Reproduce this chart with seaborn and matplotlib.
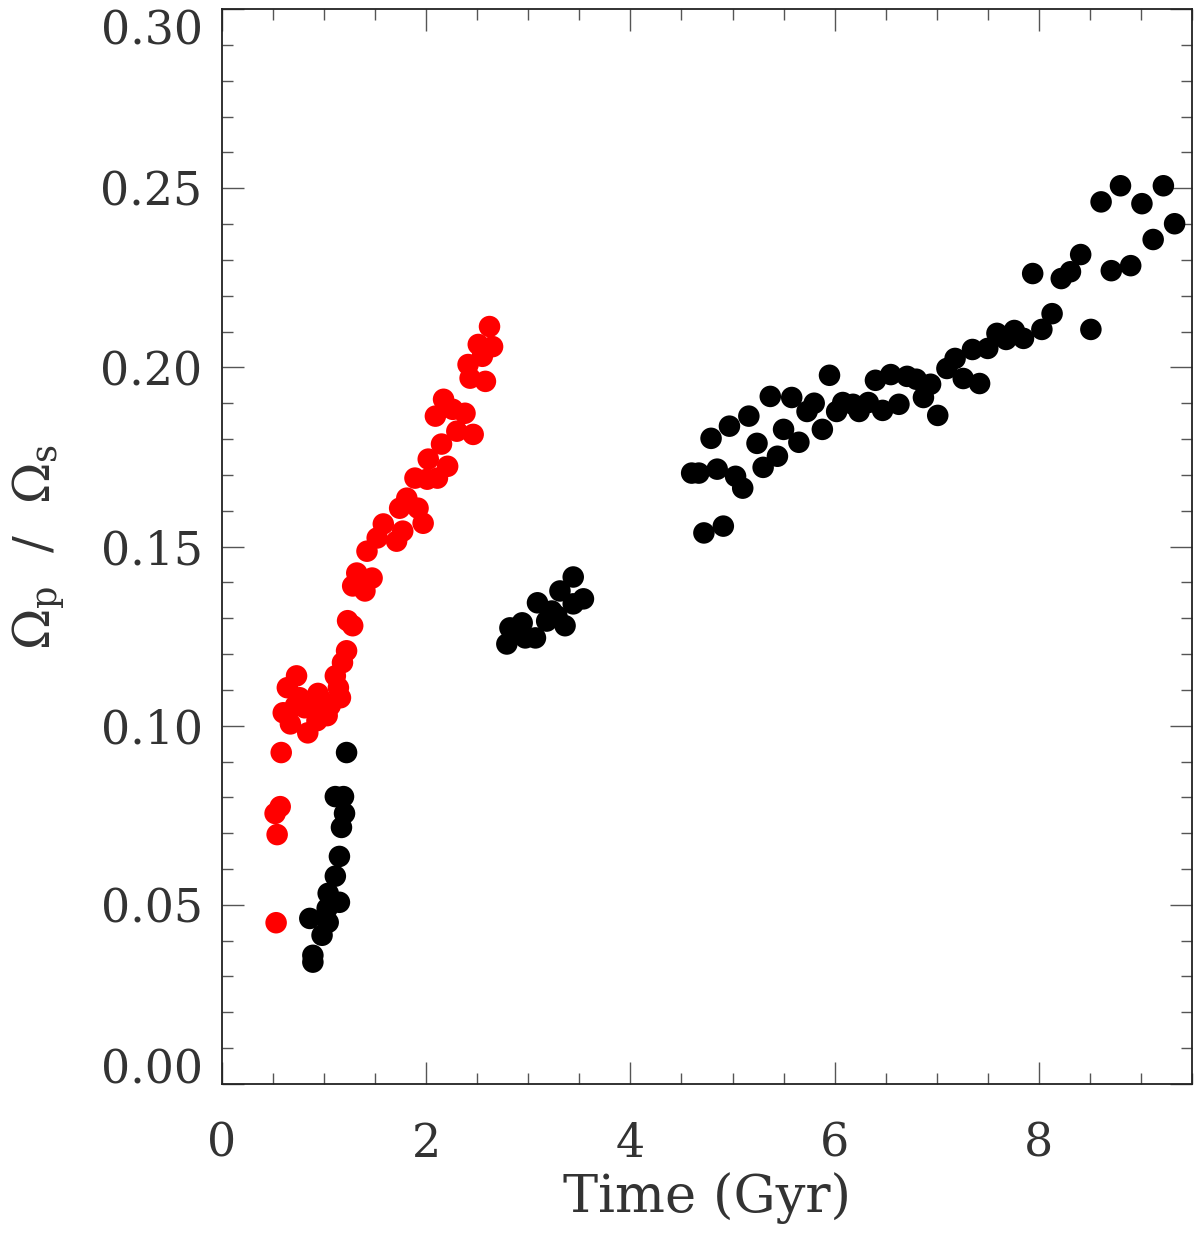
import matplotlib
matplotlib.use("Agg")
import matplotlib.pyplot as plt
from matplotlib.ticker import MultipleLocator
import seaborn as sns
import pandas as pd

# red run
red_t = [0.53, 0.54, 0.52, 0.57, 0.58,
         0.60, 0.64, 0.67, 0.73, 0.76, 0.81, 0.84, 0.93, 0.94, 1.03, 0.98, 0.88,
         0.72, 1.14, 1.11, 1.16, 1.18, 1.22, 1.06,
         1.23, 1.28, 1.32, 1.28, 1.40, 1.47, 1.42, 1.52, 1.71, 1.58, 1.77, 1.97,
         1.74, 1.92, 1.81, 1.89, 2.01, 2.11, 2.02, 2.21, 2.15, 2.30, 2.46, 2.09,
         2.26, 2.38, 2.17, 2.43, 2.58, 2.41, 2.55, 2.51, 2.65, 2.62]
red_om = [0.0450, 0.0696, 0.0755, 0.0774, 0.0925,
          0.1036, 0.1106, 0.1005, 0.1139, 0.1078, 0.1050, 0.0980, 0.1014, 0.1090,
          0.1028, 0.1070, 0.1056, 0.1056, 0.1106, 0.1139, 0.1078, 0.1176, 0.1209,
          0.1056,
          0.1293, 0.1279, 0.1426, 0.1390, 0.1376, 0.1412, 0.1487, 0.1524, 0.1515,
          0.1563, 0.1543, 0.1565, 0.1607, 0.1607, 0.1635, 0.1691, 0.1688, 0.1691,
          0.1744, 0.1724, 0.1786, 0.1822, 0.1813, 0.1864, 0.1883, 0.1872, 0.1911,
          0.1970, 0.1961, 0.2008, 0.2031, 0.2064, 0.2058, 0.2114]

# black run
black_t = [1.22, 1.11, 1.19, 1.20, 1.17, 1.15, 1.11, 1.04, 1.15, 1.03, 0.86,
           1.04, 0.98, 0.89, 0.89,
           2.79, 2.82, 2.94, 2.97, 3.07, 3.09, 3.18, 3.23, 3.28, 3.31, 3.36,
           3.44, 3.54, 3.44,
           4.60, 4.67, 4.85, 5.03, 5.10, 4.79, 4.97, 5.16, 5.24, 5.30, 5.44,
           5.37, 5.50, 5.58, 5.65, 5.73, 5.80, 5.88, 5.95, 6.02, 6.08, 6.18,
           6.24, 6.33, 6.40, 6.47, 6.55, 6.63, 6.71, 6.80, 6.87, 6.94, 7.01,
           7.10, 4.72, 4.91,
           7.18, 7.26, 7.35, 7.42, 7.50, 7.59, 7.68, 7.76, 7.85, 7.94, 8.03,
           8.13, 8.22, 8.31, 8.41, 8.51, 8.61, 8.71, 8.80, 8.90, 9.01, 9.12,
           9.22, 9.33]
black_om = [0.0925, 0.0802, 0.0802, 0.0755, 0.0716, 0.0635, 0.0580, 0.0532,
            0.0507, 0.0490, 0.0462, 0.0451, 0.0415, 0.0359, 0.0340,
            0.1228, 0.1273, 0.1287, 0.1245, 0.1245, 0.1343, 0.1292, 0.1320,
            0.1306, 0.1376, 0.1279, 0.1340, 0.1354, 0.1415,
            0.1705, 0.1705, 0.1716, 0.1696, 0.1663, 0.1802, 0.1836, 0.1864,
            0.1788, 0.1721, 0.1752, 0.1919, 0.1827, 0.1916, 0.1791, 0.1877,
            0.1900, 0.1827, 0.1978, 0.1877, 0.1902, 0.1897, 0.1877, 0.1902,
            0.1964, 0.1880, 0.1980, 0.1897, 0.1975, 0.1967, 0.1916, 0.1953,
            0.1866, 0.1997, 0.1538, 0.1557,
            0.2025, 0.1969, 0.2050, 0.1955, 0.2053, 0.2095, 0.2078, 0.2103,
            0.2081, 0.2262, 0.2106, 0.2150, 0.2248, 0.2267, 0.2315, 0.2106,
            0.2462, 0.2270, 0.2507, 0.2284, 0.2457, 0.2357, 0.2507, 0.2401]

df = pd.DataFrame({
    "t": red_t + black_t,
    "om": red_om + black_om,
    "run": ["red"] * len(red_t) + ["black"] * len(black_t),
})

sns.set_style("ticks")
plt.rcParams["font.family"] = ["DejaVu Serif"]
plt.rcParams["mathtext.fontset"] = "dejavuserif"
txt = "#333333"

fig = plt.figure(figsize=(12, 12.34), dpi=100)
ax = fig.add_axes([0.185, 0.1216, 0.8083, 0.871])

sns.scatterplot(data=df, x="t", y="om", hue="run",
                palette={"red": "#ff0000", "black": "#000000"},
                s=240, linewidth=0, legend=False, ax=ax, zorder=3)

ax.set_xlim(0, 9.5)
ax.set_ylim(0, 0.30)
ax.xaxis.set_major_locator(MultipleLocator(2))
ax.xaxis.set_minor_locator(MultipleLocator(0.5))
ax.yaxis.set_major_locator(MultipleLocator(0.05))
ax.yaxis.set_minor_locator(MultipleLocator(0.01))
ax.yaxis.set_major_formatter(plt.FuncFormatter(lambda v, p: f"{v:.2f}"))
ax.xaxis.set_major_formatter(plt.FuncFormatter(lambda v, p: f"{v:.0f}"))

ax.tick_params(which="both", direction="in", top=True, right=True,
               color="#555555", width=1.0, labelcolor=txt, labelsize=33)
ax.tick_params(which="major", length=16)
ax.tick_params(which="minor", length=8)
ax.tick_params(axis="y", pad=14)
ax.tick_params(axis="x", pad=27)
for sp in ax.spines.values():
    sp.set_linewidth(1.3)
    sp.set_color("#222222")

ax.set_xlabel("Time (Gyr)", fontsize=38, color=txt, labelpad=4)
ax.set_ylabel(r"$\Omega_{\rm p}$  /  $\Omega_{\rm s}$", fontsize=36, color=txt)
ax.yaxis.set_label_coords(-0.16, 0.5)

# keep the end labels inside the axis range
fig.canvas.draw()
for tick in ax.yaxis.get_major_ticks():
    loc = tick.get_loc()
    if abs(loc) < 1e-6:
        tick.label1.set_va("baseline")
    elif abs(loc - 0.30) < 1e-6:
        tick.label1.set_va("top")

fig.savefig("out.png", dpi=100, facecolor="white")
